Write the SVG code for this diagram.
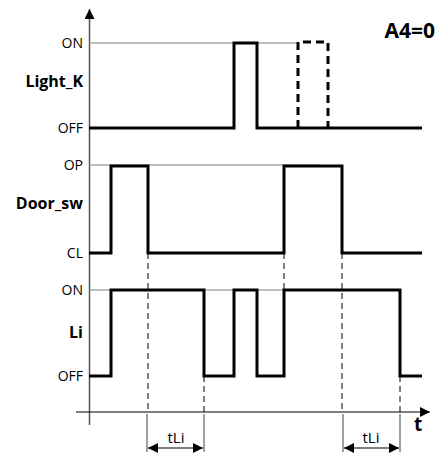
<svg xmlns="http://www.w3.org/2000/svg" width="439" height="455" viewBox="0 0 439 455">
<style>
.lbl{font-family:"Open Sans","DejaVu Sans",sans-serif;font-size:14px;fill:#000;text-anchor:end}
.name{font-family:"Open Sans","DejaVu Sans",sans-serif;font-size:16px;font-weight:bold;fill:#000;text-anchor:end}
.ref{stroke:#808080;stroke-width:1;fill:none}
.sig{stroke:#000;stroke-width:3;fill:none;stroke-linejoin:miter}
.dash{stroke:#000;stroke-width:1;stroke-dasharray:6,4;fill:none}
.ext{stroke:#808080;stroke-width:1.5;fill:none}
</style>
<defs>
<marker id="ah" viewBox="0 0 10 10" refX="10" refY="5" markerWidth="10" markerHeight="10" markerUnits="userSpaceOnUse" orient="auto-start-reverse">
<path d="M0,0 L10,5 L0,10 z" fill="#000"/>
</marker>
</defs>
<g id="connectors">
<line x1="89.5" y1="425" x2="89.5" y2="9" stroke="#555" stroke-width="1.5" marker-end="url(#ah)"/>
<line x1="76" y1="412" x2="430" y2="412" stroke="#000" stroke-width="1.2" marker-end="url(#ah)"/>
<line class="ref" x1="89" y1="43" x2="298" y2="43"/>
<line class="ref" x1="89" y1="165" x2="320" y2="165"/>
<line class="ref" x1="89" y1="290" x2="400" y2="290"/>
<line class="dash" x1="148" y1="253" x2="148" y2="412"/>
<line class="dash" x1="204" y1="376" x2="204" y2="412"/>
<line class="dash" x1="284" y1="253" x2="284" y2="290"/>
<line class="dash" x1="342" y1="253" x2="342" y2="412"/>
<line class="dash" x1="400" y1="376" x2="400" y2="412"/>
<line class="ext" x1="147" y1="414" x2="147" y2="452"/>
<line class="ext" x1="204" y1="414" x2="204" y2="452"/>
<line class="ext" x1="343" y1="414" x2="343" y2="452"/>
<line class="ext" x1="400" y1="414" x2="400" y2="452"/>
<line x1="148" y1="448" x2="203" y2="448" stroke="#000" stroke-width="1.2" marker-start="url(#ah)" marker-end="url(#ah)"/>
<line x1="344" y1="448" x2="399" y2="448" stroke="#000" stroke-width="1.2" marker-start="url(#ah)" marker-end="url(#ah)"/>
</g>
<g id="light_k">
<text class="lbl" x="83" y="48">ON</text>
<text class="name" x="83" y="87">Light_K</text>
<text class="lbl" x="83" y="133">OFF</text>
<polyline class="sig" points="89,128 234,128 234,43 257,43 257,128 422,128"/>
<polyline class="sig" points="298,128 298,42 328,42 328,128" stroke-dasharray="8,5" stroke-width="2.5"/>
</g>
<g id="door_sw">
<text class="lbl" x="83" y="170">OP</text>
<text class="name" x="83" y="209">Door_sw</text>
<text class="lbl" x="83" y="258">CL</text>
<polyline class="sig" points="89,253 111,253 111,166 148,166 148,253 284,253 284,166 342,166 342,253 422,253"/>
</g>
<g id="li">
<text class="lbl" x="83" y="295">ON</text>
<text class="name" x="83" y="338">Li</text>
<text class="lbl" x="83" y="381">OFF</text>
<polyline class="sig" points="89,376 111,376 111,290 204,290 204,376 234,376 234,290 257,290 257,376 284,376 284,290 400,290 400,376 422,376"/>
</g>
<g id="labels">
<text x="435" y="38" font-family="'Open Sans','DejaVu Sans',sans-serif" font-size="21" font-weight="bold" text-anchor="end">A4=0</text>
<text x="418" y="431" font-family="'Open Sans','DejaVu Sans',sans-serif" font-size="19" font-weight="bold" text-anchor="middle">t</text>
<text x="176" y="443" font-family="'Open Sans','DejaVu Sans',sans-serif" font-size="15" text-anchor="middle">tLi</text>
<text x="371" y="443" font-family="'Open Sans','DejaVu Sans',sans-serif" font-size="15" text-anchor="middle">tLi</text>
</g>
</svg>
